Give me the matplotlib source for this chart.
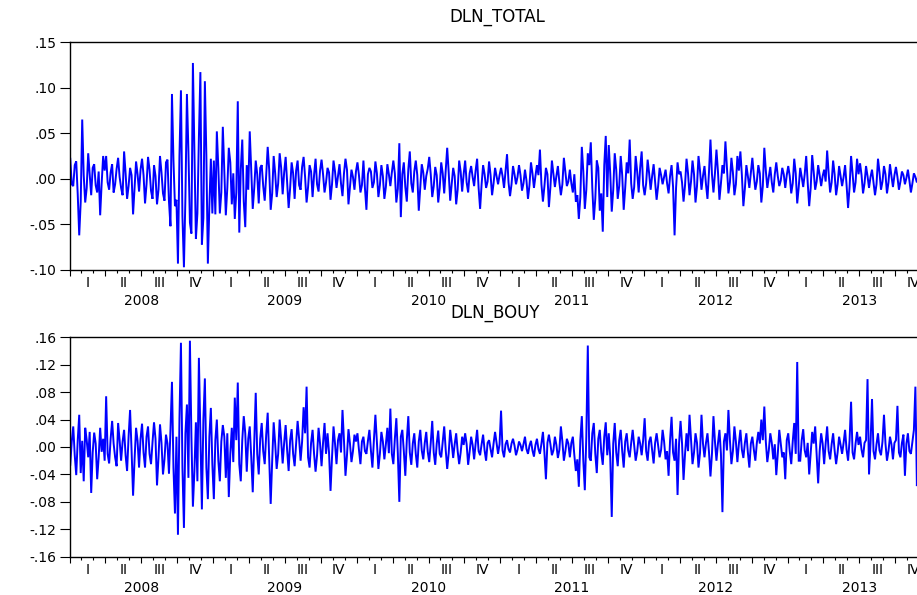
import matplotlib.pyplot as plt
import numpy as np

# readings of the daily log returns off the chart, in percent (24 per quarter)
total_2008 = [2.2, -0.6, -0.8, 1.5, 1.9, -1.7, -6.2, -2.5, 6.5, 0.4, -2.6, -1.0, 2.8, 0.5, -1.8, 1.2, 1.6, -0.7, -1.5, 0.8, -4.0, -0.5, 2.5, 0.9,
              2.5, -0.4, -1.2, 0.7, 1.6, -1.5, -0.6, 1.1, 2.3, 0.2, -1.0, -1.8, 3.0, 0.6, -2.2, -0.8, 1.2, 0.4, -3.9, -0.9, 1.9, 0.5, -1.4, 1.0,
              2.2, 0.4, -2.7, -0.6, 2.4, 1.0, -1.3, -2.2, 1.5, 0.3, -2.8, -1.2, 2.5, 0.7, -1.6, -2.4, 1.8, 2.1, -2.5, -5.2, 9.3, 2.0, -3.0, -2.3,
              -9.3, 2.5, 9.7, -4.1, -9.7, -2.0, 9.3, 3.0, -4.8, -6.0, 12.7, 2.8, -6.6, -3.8, 4.5, 11.7, -7.2, -4.3, 10.7, 2.5, -9.3, -3.0, 2.2, -3.8]
total_2009 = [2.0, -3.9, 5.2, 1.2, -3.8, -1.5, 5.7, 0.8, -4.0, -1.0, 3.4, 1.8, -2.8, 0.6, -4.4, -1.5, 8.5, -5.9, 1.0, 4.3, -2.5, -5.3, 1.5, -1.2,
              5.2, 0.8, -3.3, -1.0, 2.0, 0.5, -2.7, 1.2, 1.5, -0.8, -2.4, 0.4, 3.5, 1.0, -3.4, -1.6, 2.5, 0.6, -2.0, -0.5, 2.8, 1.2, -1.7, 0.7,
              2.4, -0.3, -3.2, -1.0, 1.8, 0.6, -2.2, 0.9, 2.0, -0.7, -1.2, 1.3, 2.4, 0.2, -2.6, -0.9, 1.5, 0.8, -2.0, 0.4, 2.2, -0.6, -1.4, 0.9,
              2.1, 0.5, -1.5, -0.4, 1.2, 0.7, -2.3, -0.6, 2.0, 0.8, -1.0, 0.3, 1.6, -0.5, -1.9, 0.6, 2.2, 1.0, -2.8, -0.9, 1.0, 0.2, -1.2, 0.8]
total_2010 = [1.8, 0.4, -1.5, -0.7, 2.0, -1.0, -3.4, 0.5, 1.2, 0.8, -1.0, -0.4, 1.9, 0.6, -2.0, -0.7, 1.5, 0.3, -2.2, -0.9, 1.6, 0.5, -0.8, 0.7,
              2.0, 0.6, -2.6, -1.1, 3.9, -4.2, 0.5, 1.8, -0.9, -2.5, 1.0, 3.0, -0.5, -1.5, 0.8, 2.0, 0.4, -3.5, -1.0, 1.6, 0.7, -1.2, 0.3, 1.1,
              2.4, 0.5, -2.0, -0.8, 1.3, 0.4, -2.6, -1.0, 1.8, 0.6, -1.6, 0.9, 3.4, 0.7, -2.4, -0.6, 1.2, 0.3, -2.8, -1.2, 2.0, 0.8, -1.4, 0.5,
              2.0, -0.4, -1.5, 0.6, 1.4, 0.2, -0.8, 0.9, 2.2, -1.0, -3.3, -0.6, 1.5, 0.5, -1.0, -0.3, 1.9, 0.4, -1.8, -0.5, 1.2, 0.3, -0.6, 0.4]
total_2011 = [1.2, 0.3, -1.0, 0.8, 2.7, -0.4, -1.9, -0.6, 1.4, 0.5, -0.6, 0.2, 1.5, 0.4, -1.3, -0.5, 1.0, -0.2, -2.2, -0.7, 1.8, 0.6, -1.0, 0.3,
              1.5, 0.4, 3.2, -0.6, -2.5, -0.8, 1.2, 0.5, -3.1, -0.9, 2.0, 0.6, -0.9, 0.3, 1.4, -0.4, -1.8, -0.6, 2.3, 0.8, -0.8, -0.3, 1.0, -0.5,
              -1.5, 0.5, -2.5, -1.8, -4.4, -2.0, 3.5, 0.8, -3.3, -1.2, 2.8, 1.5, 4.0, -1.0, -4.5, -2.2, 2.0, 1.2, -3.5, -1.6, -5.8, 1.5, 4.7, -2.0,
              3.7, 0.6, -3.6, -1.2, 2.8, 1.0, -2.2, -0.8, 2.5, 0.4, -3.4, -1.0, 1.8, 0.6, 4.3, -0.5, -2.2, -0.9, 2.5, 0.8, -1.5, 1.2, 3.0, -0.7]
total_2012 = [-1.8, -0.5, 2.1, 0.6, -1.2, 0.3, 1.6, -0.4, -2.3, -0.8, 1.2, 0.4, -0.6, 0.2, 1.0, -0.5, -1.6, 0.3, 1.5, -0.9, -6.2, -1.0, 1.8, 0.5,
              0.8, -0.4, -2.5, -0.7, 2.2, 0.6, -1.8, -0.3, 2.0, 0.5, -2.6, -0.8, 2.5, 0.9, -1.2, 0.3, 1.4, -0.6, -2.2, 0.7, 4.3, 0.5, -1.5, 0.6,
              3.2, 0.8, -2.3, -0.5, 1.5, 0.6, 4.1, 1.2, -1.6, -0.4, 2.3, 0.7, -1.8, -0.6, 2.5, 0.9, 3.0, 0.4, -3.0, -1.1, 1.5, 0.3, -1.0, 0.6,
              2.3, 0.4, -1.2, -0.3, 1.5, 0.6, -2.6, -0.8, 3.4, 0.9, -1.0, 0.2, 1.3, -0.4, -1.5, 0.5, 1.8, 0.3, -0.8, -0.2, 1.2, 0.5, -1.0, 0.4]
total_2013 = [1.4, 0.3, -1.6, -0.5, 2.2, 0.6, -2.7, -0.9, 1.2, 0.2, -0.9, 0.5, 2.5, -0.4, -3.0, -1.0, 2.6, 0.8, -1.2, -0.3, 1.5, 0.4, -0.8, 0.3,
              1.0, -0.3, 3.1, 0.6, -1.5, -0.4, 2.0, 0.5, -1.8, -0.6, 1.4, 0.3, -0.8, 0.2, 1.5, -0.7, -3.2, -0.9, 2.5, 0.6, -1.5, -0.4, 2.2, 0.5,
              1.7, 0.4, -1.6, -0.5, 1.4, 0.3, -1.0, 0.2, 1.0, -0.4, -1.8, -0.6, 2.2, 0.7, -1.2, -0.3, 1.4, 0.5, -1.6, -0.4, 1.6, 0.3, -0.9, 0.4,
              1.3, 0.2, -1.2, -0.3, 0.8, 0.4, -0.6, 0.1, 1.0, -0.2, -1.5, -0.5, 0.6, 0.2, -0.4, 0.3, 0.5, -0.2, -0.3, 0.2, 0.6, -0.1, -0.2, 0.3]

bouy_2008 = [-2.6, 0.8, 3.0, -1.2, -4.1, 1.0, 4.7, -3.8, 0.9, -5.0, 2.8, 1.0, -1.5, 2.2, -6.7, -0.8, 2.1, 0.5, -4.7, -1.5, 2.8, -0.7, 1.2, -2.0,
             7.4, -1.0, -2.4, 1.2, 3.8, 0.5, -1.5, -2.8, 3.5, 1.0, -2.0, 0.8, 2.5, -1.2, -3.5, 1.5, 5.4, -0.5, -7.1, -1.8, 2.8, 0.9, -3.0, 1.2,
             3.4, -0.8, -3.0, 1.5, 3.0, -1.0, -2.5, 0.7, 3.6, 1.2, -5.6, -1.5, 3.3, 0.6, -4.0, -1.8, 1.8, 0.5, -3.9, 2.5, 9.5, -3.0, -9.7, 1.5,
             -12.8, 4.0, 15.2, -3.0, -11.8, 2.0, 6.2, -4.5, 15.5, 1.5, -8.7, -3.5, 3.6, -5.0, 13.0, 2.0, -9.1, 4.0, 10.0, -3.0, -7.6, 1.5, 5.7, -2.5]
bouy_2009 = [-7.6, 1.0, 4.0, -2.0, -5.0, 0.8, 3.2, 1.5, -4.5, 2.0, -7.3, -1.0, 2.8, -2.2, 7.2, 1.0, 9.4, -2.5, -5.0, 1.0, 4.5, 2.0, -3.6, 1.2,
             3.0, -1.5, -6.6, 0.8, 7.9, -1.0, -4.0, 1.2, 3.5, -0.6, -2.5, 1.8, 5.0, -1.5, -8.3, -2.0, 3.6, 0.5, -3.2, -1.0, 4.0, 1.0, -2.4, 0.6,
             3.2, -0.5, -3.5, 1.0, 2.6, -1.0, -2.8, 0.6, 3.8, 1.2, -2.0, 0.8, 5.8, 2.0, 8.8, -1.5, -3.0, 0.6, 2.5, -1.0, -3.6, -1.2, 2.8, 0.5,
             -2.8, 0.6, 3.5, -1.0, 2.0, -0.8, -6.4, -1.5, 3.0, 0.5, -2.5, 1.0, 2.0, -0.8, 5.4, 0.9, -4.2, -1.2, 2.6, 0.5, -2.2, -0.6, 1.8, 0.8]
bouy_2010 = [2.0, -0.4, -2.5, 0.8, 1.5, -0.6, -1.0, 0.9, 2.5, -0.5, -3.0, 1.0, 4.7, 0.6, -3.2, -1.0, 2.2, 0.8, -1.8, 0.4, 2.8, -0.9, 5.6, -1.0,
             -2.5, 1.2, 4.2, -1.0, -8.0, 1.5, 2.5, -0.6, -4.2, 1.0, 4.5, -0.8, -2.6, 0.5, 2.0, -1.0, -3.0, 0.8, 2.5, -0.5, -1.8, 0.6, 2.2, -0.7,
             -2.2, 0.6, 3.8, -0.8, -2.6, 0.5, 2.4, -1.0, -1.5, 0.7, 3.0, -0.4, -3.2, -0.9, 2.5, 0.6, -1.6, 0.4, 2.0, -0.6, -2.5, -0.8, 1.5, 0.3,
             2.0, 0.4, -2.6, -0.7, 1.5, 0.3, -1.8, 0.5, 2.5, -0.6, -1.2, 0.4, 1.8, -0.5, -2.0, 0.6, 1.0, -0.3, -1.5, 0.5, 2.2, 0.6, -1.0, 0.4]
bouy_2011 = [5.3, -0.5, -1.5, 0.4, 1.0, -0.3, -0.8, 0.5, 1.2, 0.2, -1.2, -0.4, 0.8, 0.3, -0.6, 0.4, 1.5, -0.3, -1.0, 0.2, 0.9, -0.5, -1.4, 0.3,
             1.2, -0.3, -1.0, 0.5, 2.2, -0.8, -4.7, 0.6, 1.8, 0.4, -1.2, -0.5, 1.5, 0.3, -1.6, -0.4, 3.0, 0.8, -2.0, -0.6, 1.2, 0.5, -1.5, 0.6,
             1.5, -1.2, -3.5, -1.8, -5.8, 1.0, 4.5, -2.0, -6.3, 1.5, 14.8, -1.5, -2.0, 2.0, 3.5, -1.0, -3.8, 1.2, 2.5, -0.8, -2.6, 1.5, 3.6, -1.2,
             2.0, -1.5, -10.2, 0.5, 3.5, -0.8, -2.8, 1.0, 2.5, -0.6, -3.0, 0.8, 2.0, -0.5, -1.5, 0.6, 2.5, 0.3, -2.0, -0.7, 1.5, 0.5, -1.2, 1.0]
bouy_2012 = [4.2, -0.6, -2.0, 0.8, 1.5, -0.5, -2.4, 0.6, 2.0, 0.3, -1.5, -0.4, 2.5, 0.8, -1.8, -0.6, -4.2, 1.0, 4.4, -0.8, -2.0, 1.2, -7.0, 0.5,
             3.8, 0.5, -4.8, -1.0, 2.0, -0.6, 4.7, 1.0, -2.5, -0.8, 2.0, 0.6, -3.0, -0.9, 4.7, 0.5, -1.5, 0.6, 2.0, -0.7, -4.3, -1.0, 4.5, 0.8,
             -2.0, 0.5, 2.5, -1.0, -9.5, 0.8, 2.0, -0.5, 5.4, 1.0, -2.5, -0.6, 3.0, 0.8, -2.2, 0.5, 2.5, -0.4, -1.6, 0.6, 2.0, -0.8, -3.0, 0.5,
             1.5, -0.4, -2.0, 0.6, 2.2, 0.5, 4.0, 1.0, 5.9, 0.8, -2.2, -0.5, 2.0, 0.6, -1.8, 0.4, -4.1, -1.0, 2.5, 0.5, -1.5, -0.8, -4.7, 1.0]
bouy_2013 = [2.0, -0.6, -2.5, 0.8, 3.5, -1.0, 12.4, -2.0, -2.0, 1.0, 2.6, -0.5, -1.5, 0.6, -4.0, -0.8, 2.2, 0.5, 3.0, -1.2, -5.3, -0.6, 2.0, 0.5,
             -2.5, 0.5, 3.0, -0.6, -1.8, 0.4, 2.0, -0.5, -2.5, -0.8, 1.5, 0.3, -1.0, 0.6, 2.5, -0.4, -2.0, 1.0, 6.6, -0.8, -1.8, 0.5, 2.2, 0.3,
             1.5, -0.4, -1.5, 0.6, 1.0, 9.9, -4.0, 0.5, 7.0, -0.6, -1.8, 0.4, 2.0, -0.5, -1.2, 0.8, 4.7, 0.5, -2.0, -0.6, 1.5, 0.4, -1.8, 0.6,
             1.0, 6.0, -0.8, -1.5, 0.6, 1.8, -4.2, 0.5, 2.0, -0.6, -1.0, 0.8, 2.5, 8.8, -5.7, 0.4, 1.5, -0.5, -1.0, 0.6, 0.8, -0.4, 0.5, -0.2]

years = [2008, 2009, 2010, 2011, 2012, 2013]
quarters = ['I', 'II', 'III', 'IV']
total_ticks = [0.15, 0.10, 0.05, 0.00, -0.05, -0.10]
bouy_ticks = [0.16, 0.12, 0.08, 0.04, 0.00, -0.04, -0.08, -0.12, -0.16]

dln_total = np.concatenate([total_2008, total_2009, total_2010,
                            total_2011, total_2012, total_2013]) / 100
dln_bouy = np.concatenate([bouy_2008, bouy_2009, bouy_2010,
                           bouy_2011, bouy_2012, bouy_2013]) / 100
t_total = years[0] + (np.arange(len(dln_total)) + 0.5) / 96
t_bouy = years[0] + (np.arange(len(dln_bouy)) + 0.5) / 96


def fmt(v):
    s = '%.2f' % v
    return s.replace('0.', '.')


def style_panel(ax, ticks):
    ax.set_xlim(years[0], years[-1] + 1)
    ax.set_ylim(ticks[-1], ticks[0])
    ax.set_yticks(ticks)
    ax.set_yticklabels([fmt(v) for v in ticks])
    ax.tick_params(axis='y', direction='out', length=7.5, width=0.8,
                   labelsize=10, pad=2)
    qb = np.arange(years[0], years[-1] + 1.01, 0.25)
    ax.set_xticks(qb)
    ax.set_xticklabels([])
    ax.set_xticks(np.arange(years[0], years[-1] + 1.01, 1 / 12), minor=True)
    ax.tick_params(axis='x', which='major', direction='out', length=4.5, width=0.8)
    ax.tick_params(axis='x', which='minor', direction='out', length=2.5, width=0.8)
    for sp in ['left', 'bottom', 'top']:
        ax.spines[sp].set_linewidth(1.0)
    ax.spines['right'].set_visible(False)
    for y in years:
        for k, q in enumerate(quarters):
            ax.annotate(q, (y + 0.125 + 0.25 * k, 0), xycoords=('data', 'axes fraction'),
                        xytext=(0, -9.5), textcoords='offset points',
                        ha='center', va='center', fontsize=10, annotation_clip=False)
        ax.annotate(str(y), (y + 0.5, 0), xycoords=('data', 'axes fraction'),
                    xytext=(0, -22.5), textcoords='offset points',
                    ha='center', va='center', fontsize=10, annotation_clip=False)


fig = plt.figure(figsize=(9.17, 5.95), dpi=100)
ax1 = fig.add_axes([69.5 / 917, 1 - 270 / 595, 861.6 / 917, 228 / 595])
ax2 = fig.add_axes([69.5 / 917, 1 - 556.7 / 595, 861.6 / 917, 219.4 / 595])

ax1.plot(t_total, dln_total, color='#0000ff', lw=1.4, solid_joinstyle='miter')
ax2.plot(t_bouy, dln_bouy, color='#0000ff', lw=1.4, solid_joinstyle='miter')
style_panel(ax1, total_ticks)
style_panel(ax2, bouy_ticks)

fig.text(497 / 917, 1 - 17 / 595, 'DLN_TOTAL', ha='center', va='center', fontsize=12)
fig.text(495 / 917, 1 - 313 / 595, 'DLN_BOUY', ha='center', va='center', fontsize=12)

fig.savefig('out.png', dpi=100)
